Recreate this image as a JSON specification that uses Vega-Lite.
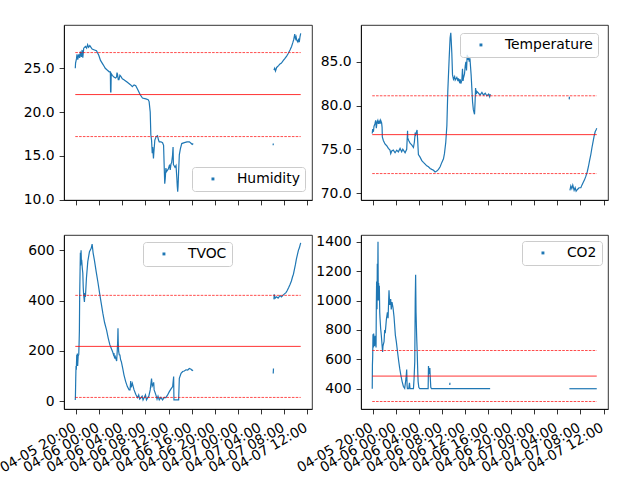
{
  "$schema": "https://vega.github.io/schema/vega-lite/v6.json",
  "padding": {"left": -3, "top": 24, "right": 0, "bottom": 0},
  "bounds": "flush",
  "columns": 2,
  "spacing": {"row": 35, "column": 49},
  "resolve": {
    "scale": {"color": "independent", "x": "independent", "y": "independent"},
    "legend": {"color": "independent"}
  },
  "config": {
    "view": {"stroke": "black", "strokeWidth": 0.8},
    "axis": {
      "grid": false, "labelOverlap": false,
      "domainColor": "black", "domainWidth": 0.8,
      "tickColor": "black", "tickWidth": 0.8, "tickSize": 4.9,
      "labelFont": "DejaVu Sans", "labelFontSize": 13.9, "labelColor": "black",
      "labelPadding": 4.9
    },
    "legend": {
      "labelFont": "DejaVu Sans", "labelFontSize": 13.9, "labelColor": "black",
      "fillColor": "rgba(255,255,255,0.8)", "strokeColor": "#cccccc", "cornerRadius": 3,
      "padding": 5, "symbolOffset": 9, "labelOffset": 17
    }
  },
  "datasets": {
    "hum": [
      {"h":-0.13,"v":25.0,"s":"a"},{"h":-0.08,"v":25.6,"s":"a"},{"h":0.08,"v":26.1,"s":"a"},{"h":0.17,"v":26.6,"s":"a"},{"h":0.30,"v":26.0,"s":"a"},{"h":0.47,"v":26.6,"s":"a"},{"h":0.63,"v":26.2,"s":"a"},{"h":0.75,"v":26.9,"s":"a"},{"h":0.92,"v":26.3,"s":"a"},{"h":1.05,"v":27.1,"s":"a"},{"h":1.17,"v":26.2,"s":"a"},{"h":1.33,"v":27.3,"s":"a"},{"h":1.62,"v":27.5,"s":"a"},{"h":1.83,"v":27.3,"s":"a"},{"h":2.00,"v":27.7,"s":"a"},{"h":2.17,"v":27.4,"s":"a"},{"h":2.38,"v":27.6,"s":"a"},{"h":2.78,"v":27.2,"s":"a"},{"h":3.18,"v":27.1,"s":"a"},{"h":3.53,"v":27.0,"s":"a"},{"h":3.93,"v":26.5,"s":"a"},
      {"h":4.23,"v":25.9,"s":"a"},{"h":4.70,"v":25.4,"s":"a"},{"h":5.05,"v":25.0,"s":"a"},{"h":5.38,"v":24.8,"s":"a"},{"h":5.73,"v":24.6,"s":"a"},{"h":5.93,"v":24.6,"s":"a"},{"h":5.97,"v":22.3,"s":"a"},{"h":6.03,"v":22.3,"s":"a"},{"h":6.08,"v":24.4,"s":"a"},{"h":6.27,"v":24.2,"s":"a"},{"h":6.55,"v":24.0,"s":"a"},{"h":6.83,"v":23.9,"s":"a"},{"h":7.00,"v":24.0,"s":"a"},{"h":7.08,"v":24.5,"s":"a"},{"h":7.17,"v":24.3,"s":"a"},{"h":7.30,"v":23.7,"s":"a"},{"h":7.42,"v":23.7,"s":"a"},{"h":7.58,"v":24.2,"s":"a"},{"h":7.72,"v":24.1,"s":"a"},{"h":8.00,"v":23.8,"s":"a"},{"h":8.28,"v":23.7,"s":"a"},{"h":8.87,"v":23.4,"s":"a"},{"h":9.45,"v":23.1,"s":"a"},{"h":9.73,"v":22.9,"s":"a"},{"h":10.03,"v":23.1,"s":"a"},{"h":10.32,"v":23.0,"s":"a"},{"h":10.72,"v":22.5,"s":"a"},{"h":11.07,"v":22.0,"s":"a"},{"h":11.48,"v":21.6,"s":"a"},{"h":12.07,"v":21.5,"s":"a"},{"h":12.47,"v":21.4,"s":"a"},{"h":12.63,"v":21.2,"s":"a"},{"h":12.82,"v":20.0,"s":"a"},{"h":12.93,"v":17.4,"s":"a"},{"h":13.05,"v":16.8,"s":"a"},{"h":13.17,"v":15.3,"s":"a"},{"h":13.25,"v":16.0,"s":"a"},{"h":13.38,"v":14.7,"s":"a"},{"h":13.45,"v":15.4,"s":"a"},{"h":13.50,"v":15.8,"s":"a"},{"h":13.62,"v":16.8,"s":"a"},{"h":13.85,"v":17.2,"s":"a"},{"h":14.08,"v":17.3,"s":"a"},{"h":14.25,"v":16.8,"s":"a"},{"h":14.38,"v":16.6,"s":"a"},{"h":14.67,"v":16.6,"s":"a"},{"h":14.95,"v":16.5,"s":"a"},{"h":15.13,"v":16.2,"s":"a"},{"h":15.25,"v":13.5,"s":"a"},{"h":15.33,"v":11.8,"s":"a"},{"h":15.42,"v":12.4,"s":"a"},{"h":15.53,"v":13.6,"s":"a"},{"h":15.65,"v":13.2,"s":"a"},{"h":15.95,"v":13.5,"s":"a"},{"h":16.17,"v":14.0,"s":"a"},{"h":16.28,"v":13.4,"s":"a"},{"h":16.42,"v":14.1,"s":"a"},{"h":16.52,"v":14.2,"s":"a"},{"h":16.67,"v":15.0,"s":"a"},{"h":16.77,"v":16.0,"s":"a"},{"h":16.83,"v":14.0,"s":"a"},{"h":16.93,"v":13.9,"s":"a"},{"h":17.10,"v":13.7,"s":"a"},{"h":17.28,"v":13.9,"s":"a"},{"h":17.42,"v":12.5,"s":"a"},{"h":17.50,"v":11.5,"s":"a"},{"h":17.57,"v":10.9,"s":"a"},{"h":17.63,"v":11.5,"s":"a"},{"h":17.73,"v":13.2,"s":"a"},{"h":17.85,"v":15.1,"s":"a"},{"h":18.03,"v":15.8,"s":"a"},{"h":18.27,"v":16.4,"s":"a"},{"h":18.72,"v":16.5,"s":"a"},{"h":19.18,"v":16.6,"s":"a"},{"h":19.58,"v":16.6,"s":"a"},{"h":19.92,"v":16.4,"s":"a"},{"h":20.08,"v":16.3,"s":"a"},{"h":20.25,"v":16.4,"s":"a"},
      {"h":34.07,"v":16.2,"s":"b"},{"h":34.09,"v":16.4,"s":"b"},
      {"h":34.20,"v":24.8,"s":"c"},{"h":34.33,"v":25.0,"s":"c"},{"h":34.47,"v":24.7,"s":"c"},{"h":34.67,"v":25.1,"s":"c"},{"h":35.00,"v":25.3,"s":"c"},{"h":35.25,"v":25.5,"s":"c"},{"h":35.50,"v":25.6,"s":"c"},{"h":35.83,"v":25.9,"s":"c"},{"h":36.08,"v":26.1,"s":"c"},{"h":36.40,"v":26.4,"s":"c"},{"h":36.67,"v":26.7,"s":"c"},{"h":36.98,"v":27.1,"s":"c"},{"h":37.25,"v":27.5,"s":"c"},{"h":37.45,"v":27.9,"s":"c"},{"h":37.63,"v":28.3,"s":"c"},{"h":37.80,"v":28.9,"s":"c"},{"h":37.92,"v":28.4,"s":"c"},{"h":38.03,"v":28.6,"s":"c"},{"h":38.15,"v":28.2,"s":"c"},{"h":38.33,"v":28.0,"s":"c"},{"h":38.48,"v":28.4,"s":"c"},{"h":38.58,"v":28.0,"s":"c"},{"h":38.70,"v":28.6,"s":"c"},{"h":38.83,"v":29.0,"s":"c"}
    ],
    "temp": [
      {"h":-0.13,"v":76.8,"s":"a"},{"h":-0.05,"v":77.3,"s":"a"},{"h":0.08,"v":77.0,"s":"a"},{"h":0.17,"v":77.6,"s":"a"},{"h":0.33,"v":77.9,"s":"a"},{"h":0.47,"v":78.3,"s":"a"},{"h":0.58,"v":77.4,"s":"a"},{"h":0.70,"v":78.1,"s":"a"},{"h":0.83,"v":78.3,"s":"a"},{"h":0.93,"v":77.9,"s":"a"},{"h":1.08,"v":78.2,"s":"a"},{"h":1.22,"v":77.9,"s":"a"},{"h":1.33,"v":78.3,"s":"a"},{"h":1.50,"v":78.0,"s":"a"},{"h":1.58,"v":77.5,"s":"a"},{"h":1.62,"v":76.4,"s":"a"},{"h":1.80,"v":76.0,"s":"a"},{"h":2.08,"v":75.6,"s":"a"},{"h":2.38,"v":75.4,"s":"a"},{"h":2.67,"v":75.1,"s":"a"},{"h":2.95,"v":74.9,"s":"a"},{"h":3.08,"v":74.5,"s":"a"},{"h":3.25,"v":74.8,"s":"a"},{"h":3.53,"v":74.9,"s":"a"},{"h":3.83,"v":74.6,"s":"a"},
      {"h":4.12,"v":74.9,"s":"a"},{"h":4.40,"v":74.7,"s":"a"},{"h":4.70,"v":75.1,"s":"a"},{"h":4.98,"v":74.7,"s":"a"},{"h":5.17,"v":75.0,"s":"a"},{"h":5.28,"v":74.9,"s":"a"},{"h":5.57,"v":74.6,"s":"a"},{"h":5.85,"v":75.0,"s":"a"},{"h":6.00,"v":77.1,"s":"a"},{"h":6.03,"v":76.3,"s":"a"},{"h":6.20,"v":76.0,"s":"a"},{"h":6.43,"v":75.7,"s":"a"},{"h":6.72,"v":75.5,"s":"a"},{"h":7.02,"v":75.2,"s":"a"},{"h":7.18,"v":75.8,"s":"a"},{"h":7.33,"v":76.9,"s":"a"},{"h":7.42,"v":76.7,"s":"a"},{"h":7.65,"v":77.2,"s":"a"},{"h":7.77,"v":75.8,"s":"a"},{"h":7.88,"v":74.4,"s":"a"},{"h":8.17,"v":74.1,"s":"a"},{"h":8.47,"v":73.7,"s":"a"},{"h":8.75,"v":73.5,"s":"a"},{"h":9.05,"v":73.3,"s":"a"},{"h":9.33,"v":73.1,"s":"a"},{"h":9.62,"v":73.0,"s":"a"},{"h":9.92,"v":72.8,"s":"a"},{"h":10.20,"v":72.7,"s":"a"},{"h":10.50,"v":72.6,"s":"a"},{"h":10.78,"v":72.4,"s":"a"},{"h":11.07,"v":72.5,"s":"a"},{"h":11.37,"v":72.7,"s":"a"},{"h":11.65,"v":73.0,"s":"a"},{"h":11.95,"v":73.5,"s":"a"},{"h":12.23,"v":73.9,"s":"a"},{"h":12.40,"v":74.5,"s":"a"},{"h":12.63,"v":75.8,"s":"a"},{"h":12.82,"v":77.7,"s":"a"},{"h":12.98,"v":81.6,"s":"a"},{"h":13.22,"v":85.4,"s":"a"},{"h":13.38,"v":87.7,"s":"a"},{"h":13.50,"v":88.3,"s":"a"},{"h":13.57,"v":87.5,"s":"a"},{"h":13.68,"v":86.0,"s":"a"},{"h":13.80,"v":83.5,"s":"a"},{"h":13.97,"v":83.0,"s":"a"},{"h":14.17,"v":83.3,"s":"a"},{"h":14.27,"v":82.9,"s":"a"},{"h":14.55,"v":83.2,"s":"a"},{"h":14.75,"v":82.8,"s":"a"},{"h":14.83,"v":83.1,"s":"a"},{"h":15.00,"v":82.7,"s":"a"},{"h":15.13,"v":83.0,"s":"a"},{"h":15.25,"v":82.5,"s":"a"},{"h":15.42,"v":82.9,"s":"a"},{"h":15.53,"v":84.2,"s":"a"},{"h":15.63,"v":82.8,"s":"a"},{"h":15.72,"v":83.2,"s":"a"},{"h":15.88,"v":83.6,"s":"a"},{"h":16.00,"v":84.5,"s":"a"},{"h":16.12,"v":85.0,"s":"a"},{"h":16.23,"v":84.0,"s":"a"},{"h":16.35,"v":85.8,"s":"a"},{"h":16.47,"v":85.2,"s":"a"},{"h":16.58,"v":85.6,"s":"a"},{"h":16.70,"v":85.0,"s":"a"},{"h":16.82,"v":85.4,"s":"a"},{"h":17.03,"v":83.5,"s":"a"},{"h":17.28,"v":80.4,"s":"a"},{"h":17.42,"v":79.5,"s":"a"},{"h":17.62,"v":79.0,"s":"a"},{"h":17.72,"v":80.5,"s":"a"},{"h":17.80,"v":82.0,"s":"a"},{"h":17.92,"v":81.3,"s":"a"},{"h":18.03,"v":81.6,"s":"a"},{"h":18.32,"v":81.4,"s":"a"},{"h":18.58,"v":81.2,"s":"a"},{"h":18.90,"v":81.5,"s":"a"},{"h":19.17,"v":81.2,"s":"a"},{"h":19.48,"v":81.4,"s":"a"},{"h":19.75,"v":81.1,"s":"a"},{"h":20.07,"v":81.3,"s":"a"},{"h":20.25,"v":81.0,"s":"a"},{"h":20.37,"v":81.3,"s":"a"},
      {"h":34.05,"v":80.7,"s":"b"},{"h":34.08,"v":81.0,"s":"b"},
      {"h":34.17,"v":70.3,"s":"c"},{"h":34.33,"v":70.8,"s":"c"},{"h":34.50,"v":70.5,"s":"c"},{"h":34.67,"v":70.9,"s":"c"},{"h":34.90,"v":70.3,"s":"c"},{"h":35.08,"v":70.6,"s":"c"},{"h":35.25,"v":70.2,"s":"c"},{"h":35.48,"v":70.4,"s":"c"},{"h":35.75,"v":70.6,"s":"c"},{"h":36.07,"v":70.6,"s":"c"},{"h":36.25,"v":70.9,"s":"c"},{"h":36.47,"v":71.2,"s":"c"},{"h":36.70,"v":71.5,"s":"c"},{"h":36.93,"v":71.9,"s":"c"},{"h":37.17,"v":72.4,"s":"c"},{"h":37.38,"v":73.0,"s":"c"},{"h":37.58,"v":73.7,"s":"c"},{"h":37.80,"v":74.4,"s":"c"},{"h":38.00,"v":75.2,"s":"c"},{"h":38.20,"v":75.9,"s":"c"},{"h":38.37,"v":76.5,"s":"c"},{"h":38.55,"v":77.0,"s":"c"},{"h":38.70,"v":77.2,"s":"c"},{"h":38.83,"v":77.4,"s":"c"}
    ],
    "tvoc": [
      {"h":-0.13,"v":5,"s":"a"},{"h":-0.10,"v":25,"s":"a"},{"h":-0.05,"v":90,"s":"a"},{"h":0.00,"v":140,"s":"a"},{"h":0.05,"v":125,"s":"a"},{"h":0.12,"v":185,"s":"a"},{"h":0.17,"v":160,"s":"a"},{"h":0.23,"v":190,"s":"a"},{"h":0.28,"v":140,"s":"a"},{"h":0.37,"v":180,"s":"a"},{"h":0.47,"v":185,"s":"a"},{"h":0.53,"v":230,"s":"a"},{"h":0.58,"v":280,"s":"a"},{"h":0.63,"v":420,"s":"a"},{"h":0.70,"v":520,"s":"a"},{"h":0.75,"v":590,"s":"a"},{"h":0.80,"v":540,"s":"a"},{"h":0.87,"v":600,"s":"a"},{"h":0.92,"v":560,"s":"a"},{"h":0.98,"v":560,"s":"a"},{"h":1.08,"v":530,"s":"a"},{"h":1.17,"v":510,"s":"a"},{"h":1.25,"v":450,"s":"a"},{"h":1.33,"v":420,"s":"a"},{"h":1.45,"v":395,"s":"a"},{"h":1.53,"v":430,"s":"a"},{"h":1.62,"v":415,"s":"a"},{"h":1.80,"v":490,"s":"a"},{"h":2.03,"v":555,"s":"a"},{"h":2.32,"v":595,"s":"a"},{"h":2.62,"v":608,"s":"a"},{"h":2.78,"v":625,"s":"a"},{"h":2.95,"v":590,"s":"a"},{"h":3.18,"v":560,"s":"a"},{"h":3.48,"v":515,"s":"a"},{"h":3.77,"v":475,"s":"a"},
      {"h":4.07,"v":430,"s":"a"},{"h":4.35,"v":390,"s":"a"},{"h":4.63,"v":350,"s":"a"},{"h":4.93,"v":313,"s":"a"},{"h":5.28,"v":283,"s":"a"},{"h":5.57,"v":250,"s":"a"},{"h":5.85,"v":224,"s":"a"},{"h":6.08,"v":211,"s":"a"},{"h":6.32,"v":197,"s":"a"},{"h":6.47,"v":185,"s":"a"},{"h":6.55,"v":191,"s":"a"},{"h":6.67,"v":170,"s":"a"},{"h":6.78,"v":177,"s":"a"},{"h":7.02,"v":160,"s":"a"},{"h":7.13,"v":204,"s":"a"},{"h":7.20,"v":240,"s":"a"},{"h":7.25,"v":290,"s":"a"},{"h":7.30,"v":230,"s":"a"},{"h":7.37,"v":197,"s":"a"},{"h":7.47,"v":185,"s":"a"},{"h":7.58,"v":184,"s":"a"},{"h":7.70,"v":165,"s":"a"},{"h":7.83,"v":157,"s":"a"},{"h":8.07,"v":131,"s":"a"},{"h":8.28,"v":105,"s":"a"},{"h":8.58,"v":78,"s":"a"},{"h":8.87,"v":58,"s":"a"},{"h":9.17,"v":45,"s":"a"},{"h":9.33,"v":45,"s":"a"},{"h":9.45,"v":80,"s":"a"},{"h":9.53,"v":55,"s":"a"},{"h":9.73,"v":71,"s":"a"},{"h":10.03,"v":45,"s":"a"},{"h":10.32,"v":28,"s":"a"},{"h":10.62,"v":14,"s":"a"},{"h":10.83,"v":25,"s":"a"},{"h":11.00,"v":8,"s":"a"},{"h":11.18,"v":12,"s":"a"},{"h":11.42,"v":20,"s":"a"},{"h":11.58,"v":5,"s":"a"},{"h":11.77,"v":14,"s":"a"},{"h":12.00,"v":25,"s":"a"},{"h":12.17,"v":5,"s":"a"},{"h":12.35,"v":12,"s":"a"},{"h":12.58,"v":20,"s":"a"},{"h":12.82,"v":45,"s":"a"},{"h":13.05,"v":90,"s":"a"},{"h":13.17,"v":60,"s":"a"},{"h":13.28,"v":65,"s":"a"},{"h":13.42,"v":75,"s":"a"},{"h":13.50,"v":45,"s":"a"},{"h":13.80,"v":25,"s":"a"},{"h":14.00,"v":8,"s":"a"},{"h":14.17,"v":20,"s":"a"},{"h":14.38,"v":5,"s":"a"},{"h":14.67,"v":15,"s":"a"},{"h":14.95,"v":5,"s":"a"},{"h":15.25,"v":15,"s":"a"},{"h":15.53,"v":14,"s":"a"},{"h":15.83,"v":25,"s":"a"},{"h":16.12,"v":38,"s":"a"},{"h":16.42,"v":49,"s":"a"},{"h":16.70,"v":58,"s":"a"},{"h":16.87,"v":98,"s":"a"},{"h":16.92,"v":5,"s":"a"},{"h":17.73,"v":5,"s":"a"},{"h":17.85,"v":91,"s":"a"},{"h":18.15,"v":111,"s":"a"},{"h":18.43,"v":118,"s":"a"},{"h":18.72,"v":120,"s":"a"},{"h":19.00,"v":125,"s":"a"},{"h":19.30,"v":124,"s":"a"},{"h":19.58,"v":130,"s":"a"},{"h":19.88,"v":127,"s":"a"},{"h":20.08,"v":122,"s":"a"},{"h":20.23,"v":124,"s":"a"},
      {"h":34.08,"v":110,"s":"b"},{"h":34.12,"v":130,"s":"b"},
      {"h":34.20,"v":405,"s":"c"},{"h":34.25,"v":425,"s":"c"},{"h":34.42,"v":410,"s":"c"},{"h":34.67,"v":415,"s":"c"},{"h":34.92,"v":410,"s":"c"},{"h":35.25,"v":420,"s":"c"},{"h":35.50,"v":415,"s":"c"},{"h":35.83,"v":423,"s":"c"},{"h":36.08,"v":428,"s":"c"},{"h":36.28,"v":432,"s":"c"},{"h":36.50,"v":440,"s":"c"},{"h":36.75,"v":452,"s":"c"},{"h":37.00,"v":465,"s":"c"},{"h":37.22,"v":478,"s":"c"},{"h":37.42,"v":495,"s":"c"},{"h":37.57,"v":505,"s":"c"},{"h":37.75,"v":525,"s":"c"},{"h":37.92,"v":544,"s":"c"},{"h":38.08,"v":565,"s":"c"},{"h":38.27,"v":584,"s":"c"},{"h":38.43,"v":600,"s":"c"},{"h":38.60,"v":610,"s":"c"},{"h":38.73,"v":622,"s":"c"},{"h":38.83,"v":630,"s":"c"}
    ],
    "co2": [
      {"h":-0.13,"v":400,"s":"a"},{"h":-0.10,"v":560,"s":"a"},{"h":-0.05,"v":620,"s":"a"},{"h":0.00,"v":770,"s":"a"},{"h":0.07,"v":680,"s":"a"},{"h":0.12,"v":775,"s":"a"},{"h":0.20,"v":700,"s":"a"},{"h":0.28,"v":690,"s":"a"},{"h":0.37,"v":760,"s":"a"},{"h":0.47,"v":740,"s":"a"},{"h":0.53,"v":680,"s":"a"},{"h":0.58,"v":960,"s":"a"},{"h":0.63,"v":1130,"s":"a"},{"h":0.70,"v":940,"s":"a"},{"h":0.75,"v":1250,"s":"a"},{"h":0.80,"v":1010,"s":"a"},{"h":0.87,"v":1400,"s":"a"},{"h":0.92,"v":1000,"s":"a"},{"h":0.98,"v":1120,"s":"a"},{"h":1.05,"v":1000,"s":"a"},{"h":1.10,"v":1100,"s":"a"},{"h":1.17,"v":920,"s":"a"},{"h":1.22,"v":880,"s":"a"},{"h":1.33,"v":810,"s":"a"},{"h":1.45,"v":760,"s":"a"},{"h":1.57,"v":700,"s":"a"},{"h":1.67,"v":650,"s":"a"},{"h":1.73,"v":690,"s":"a"},{"h":1.92,"v":720,"s":"a"},{"h":2.03,"v":800,"s":"a"},{"h":2.15,"v":790,"s":"a"},{"h":2.32,"v":870,"s":"a"},{"h":2.50,"v":920,"s":"a"},{"h":2.62,"v":880,"s":"a"},{"h":2.72,"v":1000,"s":"a"},{"h":2.78,"v":1070,"s":"a"},{"h":2.90,"v":970,"s":"a"},{"h":3.07,"v":1010,"s":"a"},{"h":3.17,"v":940,"s":"a"},{"h":3.30,"v":990,"s":"a"},{"h":3.48,"v":950,"s":"a"},{"h":3.65,"v":890,"s":"a"},{"h":3.88,"v":765,"s":"a"},
      {"h":4.05,"v":720,"s":"a"},{"h":4.23,"v":660,"s":"a"},{"h":4.47,"v":585,"s":"a"},{"h":4.63,"v":540,"s":"a"},{"h":4.82,"v":495,"s":"a"},{"h":5.05,"v":450,"s":"a"},{"h":5.28,"v":415,"s":"a"},{"h":5.50,"v":402,"s":"a"},{"h":5.73,"v":470,"s":"a"},{"h":5.85,"v":530,"s":"a"},{"h":5.92,"v":420,"s":"a"},{"h":5.97,"v":400,"s":"a"},{"h":6.20,"v":400,"s":"a"},{"h":6.33,"v":440,"s":"a"},{"h":6.43,"v":400,"s":"a"},{"h":7.02,"v":400,"s":"a"},{"h":7.13,"v":470,"s":"a"},{"h":7.25,"v":585,"s":"a"},{"h":7.33,"v":1000,"s":"a"},{"h":7.40,"v":1175,"s":"a"},{"h":7.47,"v":920,"s":"a"},{"h":7.57,"v":765,"s":"a"},{"h":7.67,"v":652,"s":"a"},{"h":7.78,"v":500,"s":"a"},{"h":7.83,"v":450,"s":"a"},{"h":7.95,"v":410,"s":"a"},{"h":8.12,"v":400,"s":"a"},{"h":9.57,"v":400,"s":"a"},{"h":9.63,"v":555,"s":"a"},{"h":9.75,"v":500,"s":"a"},{"h":9.87,"v":540,"s":"a"},{"h":9.92,"v":490,"s":"a"},{"h":10.03,"v":410,"s":"a"},{"h":10.15,"v":400,"s":"a"},{"h":20.33,"v":400,"s":"a"},
      {"h":13.33,"v":425,"s":"b"},{"h":13.35,"v":440,"s":"b"},
      {"h":34.08,"v":400,"s":"c"},{"h":38.83,"v":400,"s":"c"}
    ],
    "ref": [
      {"m":"Humidity","h":-0.13,"h1":38.83,"v":22.0,"k":"mean"},
      {"m":"Humidity","h":-0.13,"h1":38.83,"v":26.8,"k":"sd"},
      {"m":"Humidity","h":-0.13,"h1":38.83,"v":17.2,"k":"sd"},
      {"m":"Temperature","h":-0.13,"h1":38.83,"v":76.67,"k":"mean"},
      {"m":"Temperature","h":-0.13,"h1":38.83,"v":81.11,"k":"sd"},
      {"m":"Temperature","h":-0.13,"h1":38.83,"v":72.22,"k":"sd"},
      {"m":"TVOC","h":-0.13,"h1":38.83,"v":218,"k":"mean"},
      {"m":"TVOC","h":-0.13,"h1":38.83,"v":421,"k":"sd"},
      {"m":"TVOC","h":-0.13,"h1":38.83,"v":15,"k":"sd"},
      {"m":"CO2","h":-0.13,"h1":38.83,"v":486,"k":"mean"},
      {"m":"CO2","h":-0.13,"h1":38.83,"v":660,"k":"sd"},
      {"m":"CO2","h":-0.13,"h1":38.83,"v":313,"k":"sd"}
    ]
  },
  "concat": [
    {
      "width": 248, "height": 175,
      "layer": [
        {
          "data": {"name": "hum"},
          "mark": {"type": "line", "strokeWidth": 1.2},
          "encoding": {
            "x": {"field": "h", "type": "quantitative", "title": null, "scale": {"domain": [-2.08, 40.78], "nice": false, "zero": false}, "axis": {"values": [0, 4, 8, 12, 16, 20, 24, 28, 32, 36, 40], "tickCount": 50, "labels": false}},
            "y": {"field": "v", "type": "quantitative", "title": null, "scale": {"domain": [9.95, 29.95], "nice": false, "zero": false}, "axis": {"values": [10, 15, 20, 25], "tickCount": 50, "labelOverlap": false}},
            "detail": {"field": "s", "type": "nominal"},
            "color": {"datum": "Humidity", "type": "nominal", "title": null, "scale": {"range": ["#1f77b4"]}, "legend": {"orient": "none", "legendX": 128, "legendY": 142, "symbolType": "square", "symbolSize": 2}}
          }
        },
        {
          "data": {"name": "ref"},
          "transform": [{"filter": "datum.m == 'Humidity' && datum.k == 'mean'"}],
          "mark": {"type": "rule", "color": "red", "strokeWidth": 0.8},
          "encoding": {"x": {"field": "h", "type": "quantitative"}, "x2": {"field": "h1"}, "y": {"field": "v", "type": "quantitative"}}
        },
        {
          "data": {"name": "ref"},
          "transform": [{"filter": "datum.m == 'Humidity' && datum.k == 'sd'"}],
          "mark": {"type": "rule", "color": "red", "strokeWidth": 0.7, "strokeDash": [2.6, 1.2]},
          "encoding": {"x": {"field": "h", "type": "quantitative"}, "x2": {"field": "h1"}, "y": {"field": "v", "type": "quantitative"}}
        }
      ]
    },
    {
      "width": 247, "height": 175,
      "layer": [
        {
          "data": {"name": "temp"},
          "mark": {"type": "line", "strokeWidth": 1.2},
          "encoding": {
            "x": {"field": "h", "type": "quantitative", "title": null, "scale": {"domain": [-2.08, 40.78], "nice": false, "zero": false}, "axis": {"values": [0, 4, 8, 12, 16, 20, 24, 28, 32, 36, 40], "tickCount": 50, "labels": false}},
            "y": {"field": "v", "type": "quantitative", "title": null, "scale": {"domain": [69.2, 89.2], "nice": false, "zero": false}, "axis": {"values": [70, 75, 80, 85], "tickCount": 50, "labelOverlap": false}},
            "detail": {"field": "s", "type": "nominal"},
            "color": {"datum": "Temperature", "type": "nominal", "title": null, "scale": {"range": ["#1f77b4"]}, "legend": {"orient": "none", "legendX": 99, "legendY": 8, "symbolType": "square", "symbolSize": 2}}
          }
        },
        {
          "data": {"name": "ref"},
          "transform": [{"filter": "datum.m == 'Temperature' && datum.k == 'mean'"}],
          "mark": {"type": "rule", "color": "red", "strokeWidth": 0.8},
          "encoding": {"x": {"field": "h", "type": "quantitative"}, "x2": {"field": "h1"}, "y": {"field": "v", "type": "quantitative"}}
        },
        {
          "data": {"name": "ref"},
          "transform": [{"filter": "datum.m == 'Temperature' && datum.k == 'sd'"}],
          "mark": {"type": "rule", "color": "red", "strokeWidth": 0.7, "strokeDash": [2.6, 1.2]},
          "encoding": {"x": {"field": "h", "type": "quantitative"}, "x2": {"field": "h1"}, "y": {"field": "v", "type": "quantitative"}}
        }
      ]
    },
    {
      "width": 248, "height": 174,
      "layer": [
        {
          "data": {"name": "tvoc"},
          "mark": {"type": "line", "strokeWidth": 1.2},
          "encoding": {
            "x": {"field": "h", "type": "quantitative", "title": null, "scale": {"domain": [-2.08, 40.78], "nice": false, "zero": false}, "axis": {"values": [0, 4, 8, 12, 16, 20, 24, 28, 32, 36, 40], "tickCount": 50, "labelOverlap": false, "labelExpr": "['04-05 20:00','04-06 00:00','04-06 04:00','04-06 08:00','04-06 12:00','04-06 16:00','04-06 20:00','04-07 00:00','04-07 04:00','04-07 08:00','04-07 12:00'][round(datum.value / 4)]", "labelAngle": -30, "labelAlign": "right", "labelBaseline": "top", "labelOffset": -5, "labelPadding": 6.5}},
            "y": {"field": "v", "type": "quantitative", "title": null, "scale": {"domain": [-31, 661], "nice": false, "zero": false}, "axis": {"values": [0, 200, 400, 600], "tickCount": 50, "labelOverlap": false}},
            "detail": {"field": "s", "type": "nominal"},
            "color": {"datum": "TVOC", "type": "nominal", "title": null, "scale": {"range": ["#1f77b4"]}, "legend": {"orient": "none", "legendX": 79, "legendY": 7, "symbolType": "square", "symbolSize": 2}}
          }
        },
        {
          "data": {"name": "ref"},
          "transform": [{"filter": "datum.m == 'TVOC' && datum.k == 'mean'"}],
          "mark": {"type": "rule", "color": "red", "strokeWidth": 0.8},
          "encoding": {"x": {"field": "h", "type": "quantitative"}, "x2": {"field": "h1"}, "y": {"field": "v", "type": "quantitative"}}
        },
        {
          "data": {"name": "ref"},
          "transform": [{"filter": "datum.m == 'TVOC' && datum.k == 'sd'"}],
          "mark": {"type": "rule", "color": "red", "strokeWidth": 0.7, "strokeDash": [2.6, 1.2]},
          "encoding": {"x": {"field": "h", "type": "quantitative"}, "x2": {"field": "h1"}, "y": {"field": "v", "type": "quantitative"}}
        }
      ]
    },
    {
      "width": 247, "height": 174,
      "layer": [
        {
          "data": {"name": "co2"},
          "mark": {"type": "line", "strokeWidth": 1.2},
          "encoding": {
            "x": {"field": "h", "type": "quantitative", "title": null, "scale": {"domain": [-2.08, 40.78], "nice": false, "zero": false}, "axis": {"values": [0, 4, 8, 12, 16, 20, 24, 28, 32, 36, 40], "tickCount": 50, "labelOverlap": false, "labelExpr": "['04-05 20:00','04-06 00:00','04-06 04:00','04-06 08:00','04-06 12:00','04-06 16:00','04-06 20:00','04-07 00:00','04-07 04:00','04-07 08:00','04-07 12:00'][round(datum.value / 4)]", "labelAngle": -30, "labelAlign": "right", "labelBaseline": "top", "labelOffset": -5, "labelPadding": 6.5}},
            "y": {"field": "v", "type": "quantitative", "title": null, "scale": {"domain": [262, 1446], "nice": false, "zero": false}, "axis": {"values": [400, 600, 800, 1000, 1200, 1400], "tickCount": 50, "format": "d", "labelOverlap": false}},
            "detail": {"field": "s", "type": "nominal"},
            "color": {"datum": "CO2", "type": "nominal", "title": null, "scale": {"range": ["#1f77b4"]}, "legend": {"orient": "none", "legendX": 161, "legendY": 6, "symbolType": "square", "symbolSize": 2}}
          }
        },
        {
          "data": {"name": "ref"},
          "transform": [{"filter": "datum.m == 'CO2' && datum.k == 'mean'"}],
          "mark": {"type": "rule", "color": "red", "strokeWidth": 0.8},
          "encoding": {"x": {"field": "h", "type": "quantitative"}, "x2": {"field": "h1"}, "y": {"field": "v", "type": "quantitative"}}
        },
        {
          "data": {"name": "ref"},
          "transform": [{"filter": "datum.m == 'CO2' && datum.k == 'sd'"}],
          "mark": {"type": "rule", "color": "red", "strokeWidth": 0.7, "strokeDash": [2.6, 1.2]},
          "encoding": {"x": {"field": "h", "type": "quantitative"}, "x2": {"field": "h1"}, "y": {"field": "v", "type": "quantitative"}}
        }
      ]
    }
  ]
}
